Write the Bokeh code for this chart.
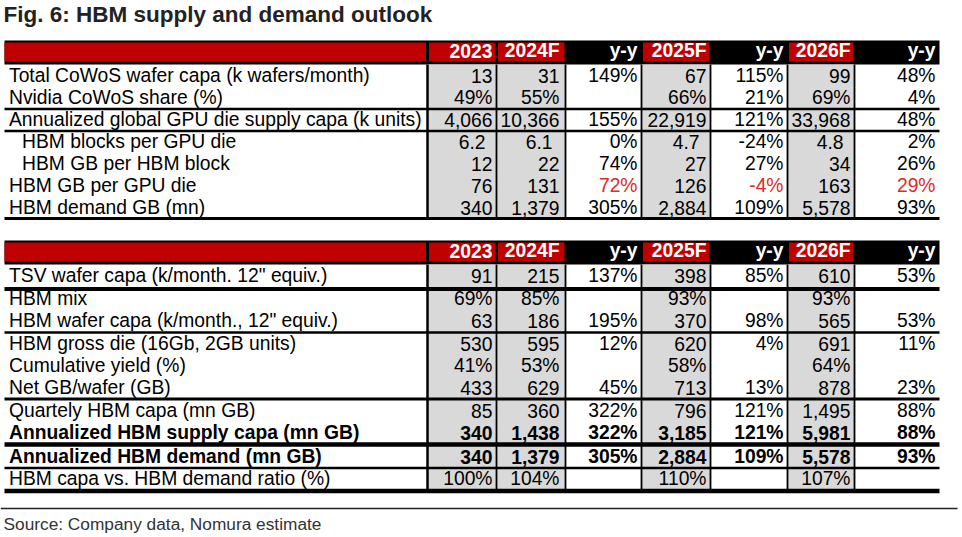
from bokeh.plotting import figure
from bokeh.models import Range1d
from bokeh.embed import file_html
from bokeh.resources import INLINE
from bokeh.core.properties import value

# ---------------- data ----------------
title = "Fig. 6: HBM supply and demand outlook"
source_note = "Source: Company data, Nomura estimate"
col_headers = ["2023", "2024F", "y-y", "2025F", "y-y", "2026F", "y-y"]

t1_labels = ["Total CoWoS wafer capa (k wafers/month)",
             "Nvidia CoWoS share (%)",
             "Annualized global GPU die supply capa (k units)",
             "HBM blocks per GPU die",
             "HBM GB per HBM block",
             "HBM GB per GPU die",
             "HBM demand GB (mn)"]
t1_2023 = ["13", "49%", "4,066", "6.2", "12", "76", "340"]
t1_2024 = ["31", "55%", "10,366", "6.1", "22", "131", "1,379"]
t1_yy24 = ["149%", "", "155%", "0%", "74%", "72%", "305%"]
t1_2025 = ["67", "66%", "22,919", "4.7", "27", "126", "2,884"]
t1_yy25 = ["115%", "21%", "121%", "-24%", "27%", "-4%", "109%"]
t1_2026 = ["99", "69%", "33,968", "4.8", "34", "163", "5,578"]
t1_yy26 = ["48%", "4%", "48%", "2%", "26%", "29%", "93%"]

t2_labels = ["TSV wafer capa (k/month. 12\" equiv.)",
             "HBM mix",
             "HBM wafer capa (k/month., 12\" equiv.)",
             "HBM gross die (16Gb, 2GB units)",
             "Cumulative yield (%)",
             "Net GB/wafer (GB)",
             "Quartely HBM capa (mn GB)",
             "Annualized HBM supply capa (mn GB)",
             "Annualized HBM demand (mn GB)",
             "HBM capa vs. HBM demand ratio (%)"]
t2_2023 = ["91", "69%", "63", "530", "41%", "433", "85", "340", "340", "100%"]
t2_2024 = ["215", "85%", "186", "595", "53%", "629", "360", "1,438", "1,379", "104%"]
t2_yy24 = ["137%", "", "195%", "12%", "", "45%", "322%", "322%", "305%", ""]
t2_2025 = ["398", "93%", "370", "620", "58%", "713", "796", "3,185", "2,884", "110%"]
t2_yy25 = ["85%", "", "98%", "4%", "", "13%", "121%", "121%", "109%", ""]
t2_2026 = ["610", "93%", "565", "691", "64%", "878", "1,495", "5,981", "5,578", "107%"]
t2_yy26 = ["53%", "", "53%", "11%", "", "23%", "88%", "88%", "93%", ""]

# ---------------- style / layout ----------------
FONT = value("Liberation Sans")
BODY_SIZE = "19.3px"
RED = "#c00000"
GRAY = "#d9d9d9"
RED_TXT = "#dd2a2a"

COL_EDGES = [427, 496, 565, 641, 710, 787, 854, 939]
YEAR_COL = [True, True, False, True, False, True, False]
PAD = [4, 6, 4, 4, 4, 4, 4]
TABLE_L, TABLE_R = 4, 939
TEXT_DY = 0.0

t1_layout = dict(
    hdr=(40, 64), body_bottom=218,
    centers=[75, 97, 119, 141, 163, 185, 207],
    lines=[(108.5, 2.5), (130.5, 2.5), (218, 3.2)],
    indent=[0, 0, 0, 1, 1, 0, 0],
    bold=[False] * 7,
    red_yy_rows=[5],
    extra_pad_rows=[3],
)
t2_layout = dict(
    hdr=(240, 264), body_bottom=490,
    centers=[275, 298, 320, 343, 365, 387, 410, 432, 456, 478],
    lines=[(288.5, 4), (332, 2.5), (398.5, 3), (444, 4.5), (467.5, 2.5), (490.5, 4.5)],
    indent=[0] * 10,
    bold=[False] * 7 + [True, True, False],
    red_yy_rows=[],
    extra_pad_rows=[],
)

p = figure(width=962, height=537, x_range=Range1d(0, 962), y_range=Range1d(537, 0),
           output_backend="svg", toolbar_location=None, min_border=0,
           x_axis_location=None, y_axis_location=None)
p.grid.visible = False
p.outline_line_color = None
p.background_fill_color = "white"
p.border_fill_color = "white"


def draw_text(xs, ys, texts, align="left", bold=False, color="#000000", size=BODY_SIZE):
    if not texts:
        return
    p.text(x=xs, y=[y + TEXT_DY for y in ys], text=texts, text_align=align,
           text_baseline="alphabetic", text_font=FONT, text_font_size=size,
           text_color=color, text_font_style="bold" if bold else "normal")


def draw_table(layout, labels, columns):
    h_top, h_bot = layout["hdr"]
    bottom = layout["body_bottom"]
    # header band
    p.quad(left=[TABLE_L], right=[TABLE_R], top=[h_top], bottom=[h_bot],
           fill_color="black", line_color=None)
    red_l = [TABLE_L] + [COL_EDGES[i] + 1.5 for i in range(7) if YEAR_COL[i]]
    red_r = [COL_EDGES[0] - 1.5] + [COL_EDGES[i + 1] - 1 for i in range(7) if YEAR_COL[i]]
    p.quad(left=red_l, right=red_r, top=[h_top + 2] * len(red_l),
           bottom=[h_bot - 3] * len(red_l), fill_color=RED, line_color=None)
    # gray year cells
    gl = [COL_EDGES[i] for i in range(7) if YEAR_COL[i]]
    gr = [COL_EDGES[i + 1] for i in range(7) if YEAR_COL[i]]
    p.quad(left=gl, right=gr, top=[h_bot] * len(gl), bottom=[bottom] * len(gl),
           fill_color=GRAY, line_color=None)
    # vertical borders
    p.segment(x0=[COL_EDGES[0]], x1=[COL_EDGES[0]], y0=[h_bot], y1=[bottom],
              line_color="black", line_width=2.5)
    vx = sorted(set(gl + gr) - {COL_EDGES[0]})
    p.segment(x0=vx, x1=vx, y0=[h_bot] * len(vx), y1=[bottom] * len(vx),
              line_color="black", line_width=1.8)
    # horizontal rules
    for y, w in layout["lines"]:
        p.segment(x0=[TABLE_L], x1=[TABLE_R], y0=[y], y1=[y], line_color="black", line_width=w)
    # header text
    hb = h_top + 10
    draw_text([COL_EDGES[i + 1] - PAD[i] for i in range(7)], [hb] * 7, col_headers,
              align="right", bold=True, color="white")
    # labels
    centers = layout["centers"]
    for bold in (False, True):
        idx = [r for r in range(len(labels)) if layout["bold"][r] == bold]
        draw_text([8.5 + 13 * layout["indent"][r] for r in idx],
                  [centers[r] for r in idx],
                  [labels[r] for r in idx], bold=bold)
    # values
    for ci, col in enumerate(columns):
        xr = COL_EDGES[ci + 1] - PAD[ci]
        groups = {}
        for r, t in enumerate(col):
            if t == "":
                continue
            red = (not YEAR_COL[ci]) and r in layout["red_yy_rows"]
            key = (layout["bold"][r], RED_TXT if red else "#000000")
            extra = 7 if (YEAR_COL[ci] and r in layout["extra_pad_rows"]) else 0
            g = groups.setdefault(key, ([], [], []))
            g[0].append(xr - extra)
            g[1].append(centers[r])
            g[2].append(t)
        for (bold, color), (xs, ys, ts) in groups.items():
            draw_text(xs, ys, ts, align="right", bold=bold, color=color)


# title
draw_text([3], [14], [title], bold=True, color="#222222", size="22.5px")

draw_table(t1_layout, t1_labels, [t1_2023, t1_2024, t1_yy24, t1_2025, t1_yy25, t1_2026, t1_yy26])
draw_table(t2_layout, t2_labels, [t2_2023, t2_2024, t2_yy24, t2_2025, t2_yy25, t2_2026, t2_yy26])

# footer rule and source
p.segment(x0=[0], x1=[957], y0=[508], y1=[508], line_color="#222222", line_width=1.5)
draw_text([3], [523], [source_note], color="#333333", size="17.3px")

open("out.html", "w").write(file_html(p, INLINE))
